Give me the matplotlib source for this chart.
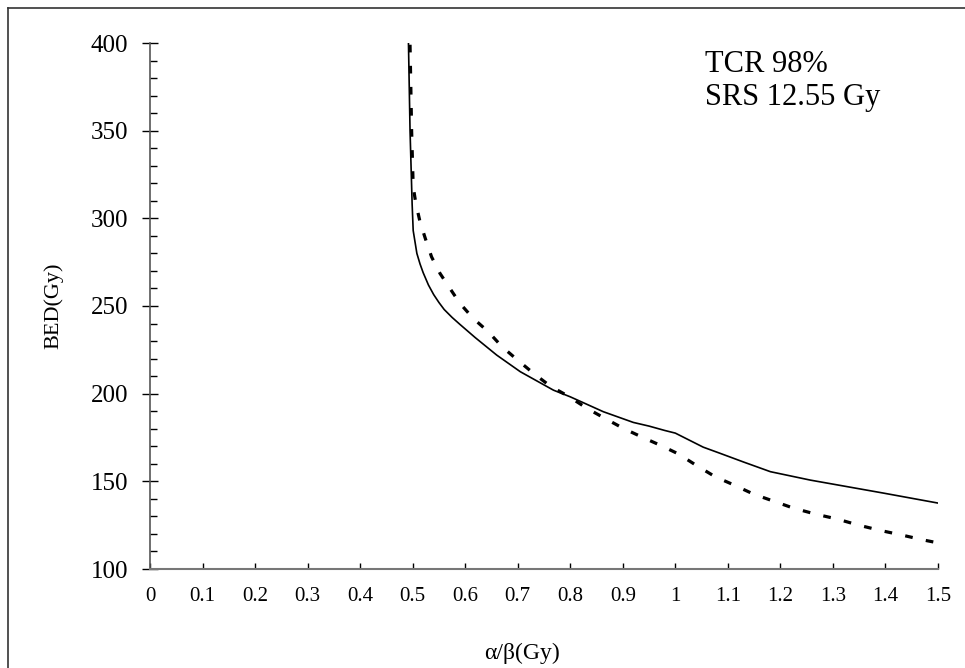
import matplotlib
matplotlib.use("Agg")
import matplotlib.pyplot as plt
from matplotlib.lines import Line2D
from matplotlib.ticker import MultipleLocator

plt.rcParams['font.family'] = ['Liberation Serif', 'DejaVu Serif']

# solid curve
ab_solid = [0.492, 0.495, 0.499, 0.501, 0.508, 0.514, 0.520, 0.530, 0.540, 0.550,
            0.560, 0.575, 0.590, 0.619, 0.66, 0.705, 0.768, 0.80, 0.863, 0.92,
            0.95, 0.98, 1.0, 1.053, 1.085, 1.13, 1.181, 1.257, 1.396, 1.5]
bed_solid = [400, 350, 308, 293, 280, 274, 269, 262, 256.5, 252,
             248, 243.5, 239.5, 232, 222, 212.5, 202, 198.2, 189.7, 183.6,
             181.5, 179, 177.5, 169.5, 166, 161, 155.5, 150.7, 143.3, 137.6]

# dashed curve
ab_dash = [0.495, 0.498, 0.501, 0.506, 0.514, 0.524, 0.536, 0.552, 0.571, 0.590,
           0.615, 0.644, 0.670, 0.698, 0.73, 0.762, 0.796, 0.832, 0.866, 0.901,
           0.939, 0.975, 1.006, 1.041, 1.076, 1.111, 1.149, 1.187, 1.225, 1.267,
           1.308, 1.349, 1.39, 1.432, 1.473, 1.5]
bed_dash = [399, 350, 318, 308.6, 298, 288.6, 278, 268.6, 260, 251.5,
            243, 235.3, 226.8, 219.6, 211.6, 204.3, 198.6, 191.6, 185.9, 180.2,
            174.9, 170.1, 165.6, 158.9, 152.6, 148, 142.7, 138.7, 134.7, 131.3,
            128.5, 125, 122, 119.3, 116.5, 114.9]

x_ticks = [0, 0.1, 0.2, 0.3, 0.4, 0.5, 0.6, 0.7, 0.8, 0.9, 1.0, 1.1, 1.2, 1.3, 1.4, 1.5]
x_labels = ['0', '0.1', '0.2', '0.3', '0.4', '0.5', '0.6', '0.7', '0.8', '0.9',
            '1', '1.1', '1.2', '1.3', '1.4', '1.5']
y_ticks = [100, 150, 200, 250, 300, 350, 400]

fig = plt.figure(figsize=(9.65, 6.68), dpi=100)
ax = fig.add_axes([150 / 965, 99 / 668, 788 / 965, 526 / 668])

ax.plot(ab_solid, bed_solid, color='black', linewidth=1.2)
ax.plot(ab_dash, bed_dash, color='black', linewidth=2.3,
        linestyle=(0, (2.4, 4.2)))

ax.set_xlim(0, 1.5)
ax.set_ylim(100, 400)
ax.set_xticks(x_ticks)
ax.set_xticklabels(x_labels)
ax.set_yticks(y_ticks)
ax.yaxis.set_minor_locator(MultipleLocator(10))

for side in ['top', 'right']:
    ax.spines[side].set_visible(False)
ax.spines['left'].set_color('#555555')
ax.spines['bottom'].set_color('#777777')
ax.spines['left'].set_linewidth(1.2)
ax.spines['bottom'].set_linewidth(1.5)

ax.tick_params(axis='x', direction='in', length=4.5, width=1, labelsize=15, pad=13)
ax.tick_params(axis='y', which='major', direction='inout', length=11, width=1,
               labelsize=18, pad=10)
ax.tick_params(axis='y', which='minor', direction='in', length=5, width=1)

ax.set_xlabel('α/β(Gy)', fontsize=17)
ax.xaxis.set_label_coords(0.472, -0.14)
ax.set_ylabel('BED(Gy)', fontsize=16, va='center')
ax.yaxis.set_label_coords(-0.123, 0.5)

fig.text(880 / 965, (668 - 105) / 668, 'TCR 98%\nSRS 12.55 Gy', fontsize=22,
         ha='right', va='baseline', multialignment='left')

# frame around the chart area
fig.add_artist(Line2D([8 / 965, 8 / 965], [0, 660 / 668], color='#333333', linewidth=1.2))
fig.add_artist(Line2D([8 / 965, 1], [660 / 668, 660 / 668], color='#333333', linewidth=1.2))

fig.savefig('out.png', dpi=100)
